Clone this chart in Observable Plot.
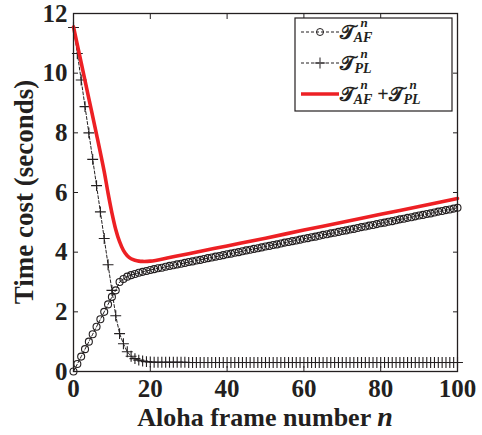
<!DOCTYPE html>
<html><head><meta charset="utf-8">
<script src="https://cdn.jsdelivr.net/npm/d3@7"></script>
<script src="https://cdn.jsdelivr.net/npm/@observablehq/plot@0.6"></script>
<style>body{margin:0;background:#fff} #chart{width:482px;height:435px}</style>
</head><body><div id="chart"></div>
<script>
// Time cost of the Aloha frames (AF) for frame number n = 0..100
const afCost = [
  0.00, 0.25, 0.50, 0.75, 1.00, 1.25, 1.50, 1.75, 2.00, 2.25,
  2.50, 2.72, 3.00, 3.10, 3.18, 3.23, 3.27, 3.31, 3.34, 3.37,
  3.40, 3.43, 3.46, 3.48, 3.51, 3.54, 3.56, 3.59, 3.61, 3.64,
  3.67, 3.69, 3.72, 3.74, 3.77, 3.80, 3.82, 3.85, 3.87, 3.90,
  3.93, 3.95, 3.98, 4.00, 4.03, 4.06, 4.08, 4.11, 4.13, 4.16,
  4.19, 4.21, 4.24, 4.26, 4.29, 4.32, 4.34, 4.37, 4.39, 4.42,
  4.45, 4.47, 4.50, 4.52, 4.55, 4.58, 4.60, 4.63, 4.65, 4.68,
  4.71, 4.73, 4.76, 4.78, 4.81, 4.84, 4.86, 4.89, 4.91, 4.94,
  4.97, 4.99, 5.02, 5.04, 5.07, 5.10, 5.12, 5.15, 5.17, 5.20,
  5.23, 5.25, 5.28, 5.30, 5.33, 5.36, 5.38, 5.41, 5.43, 5.46,
  5.49
];
// Time cost of the PL phase for frame number n = 0..100
const plCost = [
  11.53, 10.66, 9.77, 8.88, 8.00, 7.11, 6.23, 5.35, 4.46, 3.58,
  2.72, 1.87, 1.27, 0.93, 0.66, 0.51, 0.43, 0.38, 0.35, 0.33,
  0.32, 0.31, 0.31, 0.31, 0.31, 0.31, 0.31, 0.31, 0.31, 0.31,
  0.30, 0.30, 0.30, 0.30, 0.30, 0.30, 0.30, 0.30, 0.30, 0.30,
  0.30, 0.30, 0.30, 0.30, 0.30, 0.30, 0.30, 0.30, 0.30, 0.30,
  0.30, 0.30, 0.30, 0.30, 0.30, 0.30, 0.30, 0.30, 0.30, 0.30,
  0.30, 0.30, 0.30, 0.30, 0.30, 0.30, 0.30, 0.30, 0.30, 0.30,
  0.30, 0.30, 0.30, 0.30, 0.30, 0.30, 0.30, 0.30, 0.30, 0.30,
  0.30, 0.30, 0.30, 0.30, 0.30, 0.30, 0.30, 0.30, 0.30, 0.30,
  0.30, 0.30, 0.30, 0.30, 0.30, 0.30, 0.30, 0.30, 0.30, 0.30,
  0.30
];
// Total time cost (AF + PL), smooth red curve read at these frame numbers
const totalN    = [0, 2, 4, 6, 8, 9, 10, 11, 12, 13, 14, 15, 16, 17, 18, 20, 25, 30, 40, 50, 60, 70, 80, 90, 100];
const totalCost = [11.55, 10.35, 9.15, 7.95, 6.70, 5.98, 5.32, 4.76, 4.35, 4.06, 3.88, 3.78, 3.73, 3.70, 3.69, 3.70, 3.82, 3.95, 4.21, 4.47, 4.74, 5.00, 5.27, 5.53, 5.80];

const xTicks = [0, 20, 40, 60, 80, 100];
const yTicks = [0, 2, 4, 6, 8, 10, 12];
const xLabel = "Aloha frame number ";
const xLabelVar = "n";
const yLabel = "Time cost (seconds)";

const ink = "#231f20";
const red = "#ed2024";
const serif = "Liberation Serif";

const data = afCost.map((af, i) => ({n: i, af, pl: plCost[i]}));
const totalData = totalN.map((n, i) => ({n, total: totalCost[i]}));

const chart = Plot.plot({
  width: 482, height: 435,
  marginLeft: 73, marginRight: 25, marginTop: 13, marginBottom: 64,
  style: {fontFamily: serif, fontSize: "25px", fontWeight: "bold", color: ink, background: "#fff", overflow: "visible"},
  x: {domain: [0, 100]},
  y: {domain: [0, 12]},
  marks: [
    Plot.lineY(data, {x: "n", y: "pl", stroke: ink, strokeWidth: 1, strokeDasharray: "3,2"}),
    Plot.lineY(data, {x: "n", y: "af", stroke: ink, strokeWidth: 1, strokeDasharray: "3,2"}),
    Plot.dot(data, {x: "n", y: "af", r: 3.5, stroke: ink, strokeWidth: 1.1, fill: "none"}),
    Plot.dot(data, {x: "n", y: "pl", symbol: "plus", r: 3.6, stroke: ink, strokeWidth: 1.1}),
    Plot.lineY(totalData, {x: "n", y: "total", stroke: red, strokeWidth: 3.6, curve: "catmull-rom"}),
    Plot.frame({stroke: ink, strokeWidth: 1.3}),
    Plot.axisX(xTicks, {anchor: "bottom", tickSize: -5, tickPadding: 13, label: null, stroke: ink}),
    Plot.axisX(xTicks, {anchor: "top", tickSize: -5, tickFormat: () => "", label: null, stroke: ink}),
    Plot.axisY(yTicks, {anchor: "left", tickSize: -5, tickPadding: 11, label: null, stroke: ink}),
    Plot.axisY(yTicks, {anchor: "right", tickSize: -5, tickFormat: () => "", label: null, stroke: ink})
  ]
});
document.getElementById("chart").append(chart);

const svg = d3.select(chart);
const xt = svg.append("text").attr("x", 265).attr("y", 426).attr("text-anchor", "middle")
  .attr("font-family", serif).attr("font-size", 26).attr("font-weight", "bold").attr("fill", ink);
xt.append("tspan").text(xLabel);
xt.append("tspan").attr("font-style", "italic").attr("font-size", 28).text(xLabelVar);
svg.append("text").attr("transform", "translate(33,192) rotate(-90)").attr("text-anchor", "middle")
  .attr("font-family", serif).attr("font-size", 27).attr("font-weight", "bold").attr("fill", ink).text(yLabel);

// legend
const lg = svg.append("g");
lg.append("rect").attr("x", 295).attr("y", 18).attr("width", 157).attr("height", 93)
  .attr("fill", "#fff").attr("stroke", ink).attr("stroke-width", 1.2);
const rows = [32, 63, 94];
lg.append("line").attr("x1", 301).attr("x2", 339).attr("y1", rows[0]).attr("y2", rows[0]).attr("stroke", ink).attr("stroke-dasharray", "3,2");
lg.append("circle").attr("cx", 320).attr("cy", rows[0]).attr("r", 3.5).attr("fill", "none").attr("stroke", ink);
lg.append("line").attr("x1", 301).attr("x2", 339).attr("y1", rows[1]).attr("y2", rows[1]).attr("stroke", ink).attr("stroke-dasharray", "3,2");
lg.append("path").attr("d", `M314.5,${rows[1]}h11M320,${rows[1]-5.5}v11`).attr("stroke", ink);
lg.append("line").attr("x1", 301).attr("x2", 339).attr("y1", rows[2]).attr("y2", rows[2]).attr("stroke", red).attr("stroke-width", 3.6);

function term(x, y, sub) {
  lg.append("text").attr("x", x).attr("y", y + 7).attr("font-family", "'DejaVu Serif', 'DejaVu Sans', serif")
    .attr("font-size", 20).attr("fill", ink).text("𝒯");
  lg.append("text").attr("x", x + 17).attr("y", y - 5).attr("font-family", serif).attr("font-style", "italic")
    .attr("font-weight", "bold").attr("font-size", 13).attr("fill", ink).text("n");
  lg.append("text").attr("x", x + 16).attr("y", y + 10).attr("font-family", serif).attr("font-style", "italic")
    .attr("font-weight", "bold").attr("font-size", 14).attr("fill", ink).text(sub);
}
term(347, rows[0], "AF");
term(347, rows[1], "PL");
term(347, rows[2], "AF");
lg.append("text").attr("x", 383).attr("y", rows[2] + 7).attr("font-family", serif).attr("font-size", 20).attr("fill", ink).text("+");
term(396, rows[2], "PL");
</script>
</body></html>
